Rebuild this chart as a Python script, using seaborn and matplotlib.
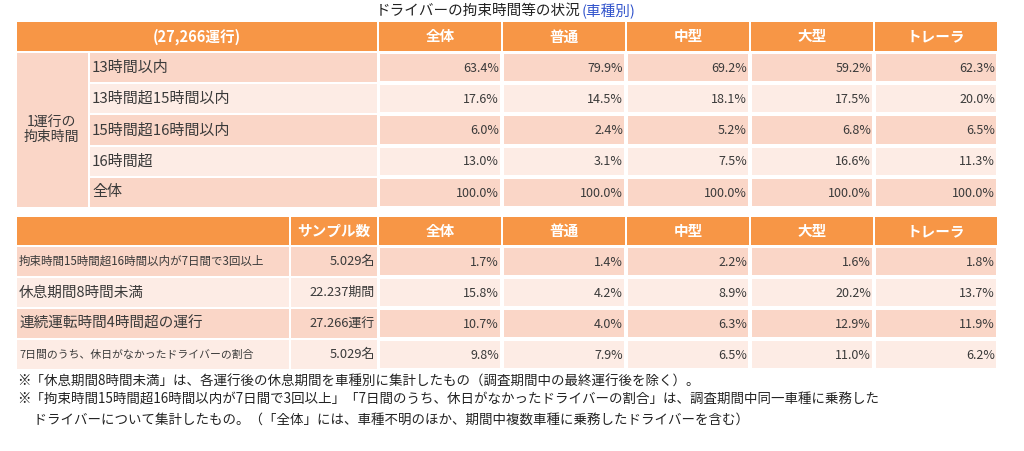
import numpy as np
import pandas as pd
import matplotlib
matplotlib.use("Agg")
import matplotlib.pyplot as plt
from matplotlib.colors import ListedColormap
from matplotlib.patches import Rectangle
import seaborn as sns

# ---------------- data ----------------
title_main = "ドライバーの拘束時間等の状況"
title_sub = "(車種別)"
vehicle_types = ["全体", "普通", "中型", "大型", "トレーラ"]

t1_header = "(27,266運行)"
t1_group = "1運行の\n拘束時間"
t1_rows = ["13時間以内", "13時間超15時間以内", "15時間超16時間以内", "16時間超", "全体"]
t1_zentai = [63.4, 17.6, 6.0, 13.0, 100.0]
t1_futsu = [79.9, 14.5, 2.4, 3.1, 100.0]
t1_chugata = [69.2, 18.1, 5.2, 7.5, 100.0]
t1_ogata = [59.2, 17.5, 6.8, 16.6, 100.0]
t1_trailer = [62.3, 20.0, 6.5, 11.3, 100.0]

t2_sample_header = "サンプル数"
t2_rows = ["拘束時間15時間超16時間以内が7日間で3回以上", "休息期間8時間未満",
           "連続運転時間4時間超の運行", "7日間のうち、休日がなかったドライバーの割合"]
t2_samples = ["5.029名", "22.237期間", "27.266運行", "5.029名"]
t2_zentai = [1.7, 15.8, 10.7, 9.8]
t2_futsu = [1.4, 4.2, 4.0, 7.9]
t2_chugata = [2.2, 8.9, 6.3, 6.5]
t2_ogata = [1.6, 20.2, 12.9, 11.0]
t2_trailer = [1.8, 13.7, 11.9, 6.2]

notes = [
    "※「休息期間8時間未満」は、各運行後の休息期間を車種別に集計したもの（調査期間中の最終運行後を除く）。",
    "※「拘束時間15時間超16時間以内が7日間で3回以上」「7日間のうち、休日がなかったドライバーの割合」は、調査期間中同一車種に乗務した",
    "　 ドライバーについて集計したもの。（「全体」には、車種不明のほか、期間中複数車種に乗務したドライバーを含む）",
]

t1 = pd.DataFrame(dict(zip(vehicle_types, [t1_zentai, t1_futsu, t1_chugata, t1_ogata, t1_trailer])), index=t1_rows)
t2 = pd.DataFrame(dict(zip(vehicle_types, [t2_zentai, t2_futsu, t2_chugata, t2_ogata, t2_trailer])), index=t2_rows)

# ---------------- style ----------------
sns.set_theme(style="white")
plt.rcParams["font.family"] = ["Noto Sans CJK JP", "DejaVu Sans"]

ORANGE = "#F79646"
DARK = "#FAD6C7"
LIGHT = "#FDECE5"
TXT = "#3A3A3A"
BLUE = "#3355CC"

W, H = 1024, 451
fig = plt.figure(figsize=(W / 100, H / 100), dpi=100)
ax0 = fig.add_axes([0, 0, 1, 1])
ax0.set_xlim(0, W)
ax0.set_ylim(H, 0)
ax0.axis("off")


def px_axes(x0, y0, x1, y1):
    return fig.add_axes([x0 / W, 1 - y1 / H, (x1 - x0) / W, (y1 - y0) / H])


def cell(x0, y0, x1, y1, color):
    ax0.add_patch(Rectangle((x0, y0), x1 - x0, y1 - y0, facecolor=color, edgecolor="none", zorder=1))


def body_heatmap(df, x0, y0, x1, y1):
    ax = px_axes(x0, y0, x1, y1)
    parity = np.tile((np.arange(len(df)) % 2)[:, None], (1, df.shape[1]))
    sns.heatmap(parity, cmap=ListedColormap([DARK, LIGHT]), vmin=0, vmax=1, cbar=False,
                linewidths=1.5, linecolor="white", xticklabels=False, yticklabels=False, ax=ax)
    for i in range(df.shape[0]):
        for j in range(df.shape[1]):
            ax.text(j + 0.975, i + 0.52, f"{df.iat[i, j]:.1f}%", ha="right", va="center",
                    fontsize=9, color=TXT)
    return ax


# title
ax0.text(580, 11, title_main, ha="right", va="center", fontsize=10.5, color="#222222")
ax0.text(582, 11, title_sub, ha="left", va="center", fontsize=10.5, color=BLUE)

X_NUM0, X_NUM1 = 378, 998
col_edges = np.linspace(X_NUM0, X_NUM1, len(vehicle_types) + 1)

# ---------- table 1 ----------
hy0, hy1 = 22, 51
cell(17, hy0, 377, hy1, ORANGE)
ax0.text(197, (hy0 + hy1) / 2, t1_header, ha="center", va="center", fontsize=10.5,
         color="white", fontweight="bold", zorder=3)
for j, name in enumerate(vehicle_types):
    cell(col_edges[j] + 1, hy0, col_edges[j + 1] - 1, hy1, ORANGE)
    ax0.text((col_edges[j] + col_edges[j + 1]) / 2, (hy0 + hy1) / 2, name, ha="center",
             va="center", fontsize=10.5, color="white", fontweight="bold", zorder=3)

r_edges1 = np.linspace(52, 208, len(t1_rows) + 1)
cell(17, r_edges1[0] + 1, 88, r_edges1[-1] - 1, DARK)
ax0.text(51, (r_edges1[0] + r_edges1[-1]) / 2, t1_group, ha="center", va="center",
         fontsize=10, color=TXT, linespacing=1.0, zorder=3)
for i, lab in enumerate(t1_rows):
    cell(90, r_edges1[i] + 1, 377, r_edges1[i + 1] - 1, DARK if i % 2 == 0 else LIGHT)
    ax0.text(92, (r_edges1[i] + r_edges1[i + 1]) / 2, lab, ha="left", va="center",
             fontsize=10.8, color=TXT, zorder=3)
body_heatmap(t1, X_NUM0, r_edges1[0], X_NUM1, r_edges1[-1])

# ---------- table 2 ----------
hy0, hy1 = 217, 245
cell(17, hy0, 289, hy1, ORANGE)
cell(291, hy0, 377, hy1, ORANGE)
ax0.text(334, (hy0 + hy1) / 2, t2_sample_header, ha="center", va="center", fontsize=10.5,
         color="white", fontweight="bold", zorder=3)
for j, name in enumerate(vehicle_types):
    cell(col_edges[j] + 1, hy0, col_edges[j + 1] - 1, hy1, ORANGE)
    ax0.text((col_edges[j] + col_edges[j + 1]) / 2, (hy0 + hy1) / 2, name, ha="center",
             va="center", fontsize=10.5, color="white", fontweight="bold", zorder=3)

r_edges2 = np.linspace(246, 370, len(t2_rows) + 1)
label_sizes = [8.3, 10.5, 10.5, 7.8]
for i, lab in enumerate(t2_rows):
    c = DARK if i % 2 == 0 else LIGHT
    cell(17, r_edges2[i] + 1, 289, r_edges2[i + 1] - 1, c)
    cell(291, r_edges2[i] + 1, 377, r_edges2[i + 1] - 1, c)
    ym = (r_edges2[i] + r_edges2[i + 1]) / 2
    ax0.text(19, ym, lab, ha="left", va="center", fontsize=label_sizes[i], color=TXT, zorder=3)
    ax0.text(375, ym, t2_samples[i], ha="right", va="center", fontsize=9.3, color=TXT, zorder=3)
body_heatmap(t2, X_NUM0, r_edges2[0], X_NUM1, r_edges2[-1])

# ---------- notes ----------
for k, (y, line) in enumerate(zip([382, 400, 420], notes)):
    ax0.text(17, y, line, ha="left", va="center", fontsize=9.7, color="#222222")

fig.savefig("out.png", dpi=100)
